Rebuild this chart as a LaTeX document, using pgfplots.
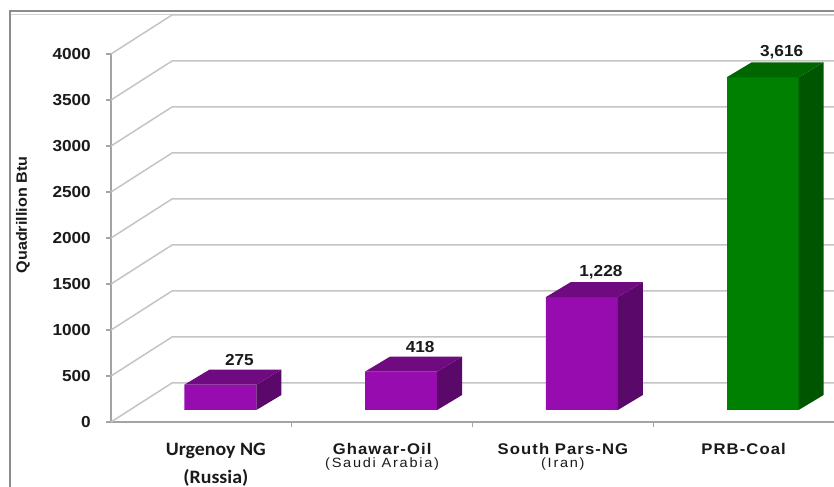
\documentclass[border=0pt]{standalone}
\usepackage{pgfplots}
\pgfplotsset{compat=1.18}
\usepackage{pgfplotstable}
\usepackage{fontspec}
\setmainfont{Liberation Sans}[FakeStretch=1.08]
\newfontfamily\catfont{Liberation Sans}[FakeStretch=1.08, LetterSpace=7]
\newfontfamily\subfont{Liberation Sans}[FakeStretch=1.08, LetterSpace=13]
\newfontfamily\calfont{Carlito}[FakeStretch=1.05]

\definecolor{purpF}{HTML}{960CAF}
\definecolor{purpT}{HTML}{700A80}
\definecolor{purpS}{HTML}{5A0869}
\definecolor{greenF}{HTML}{008000}
\definecolor{greenT}{HTML}{006600}
\definecolor{greenS}{HTML}{005500}
\definecolor{gridc}{HTML}{C4C4C4}
\definecolor{axisc}{HTML}{A4A4A4}
\definecolor{txt}{HTML}{1A1A1A}

\pgfplotstableread{
x v
0.5 275
1.5 418
2.5 1228
}\purpdata
\pgfplotstableread{
x v
3.5 3616
}\greendata

\pgfdeclareplotmark{nothing}{}
\newdimen\barh
\pgfplotsset{
  face3d/.style 2 args={
    scatter, only marks, mark=nothing,
    point meta=\thisrow{v},
    visualization depends on={\thisrow{v}\as\val},
    scatter/@pre marker code/.code={%
      \begingroup
      \pgfkeys{/pgf/fpu=true, /pgf/fpu/output format=fixed}%
      \pgfmathparse{0.092*\val}%
      \global\barh=\pgfmathresult bp\relax
      \endgroup
      \pgfpathmoveto{\pgfqpoint{55bp}{12bp}}%
      \pgfpathlineto{\pgfqpoint{80bp}{27bp}}%
      \pgfpathlineto{\pgfpointadd{\pgfqpoint{80bp}{27bp}}{\pgfqpoint{0pt}{-\barh}}}%
      \pgfpathlineto{\pgfpointadd{\pgfqpoint{55bp}{12bp}}{\pgfqpoint{0pt}{-\barh}}}%
      \pgfpathclose
      \pgfsetfillcolor{#2}%
      \pgfusepath{fill}%
      \pgfpathmoveto{\pgfqpoint{-17bp}{12bp}}%
      \pgfpathlineto{\pgfqpoint{55bp}{12bp}}%
      \pgfpathlineto{\pgfqpoint{80bp}{27bp}}%
      \pgfpathlineto{\pgfqpoint{8bp}{27bp}}%
      \pgfpathclose
      \pgfsetfillcolor{#1}%
      \pgfusepath{fill}%
    },
    scatter/@post marker code/.code={},
  },
  vlabels/.style={
    only marks, mark=nothing, point meta=\thisrow{v},
    nodes near coords={\pgfmathprintnumber[1000 sep={,}, assume math mode=true]{\pgfplotspointmeta}},
    every node near coord/.append style={anchor=center, xshift=38bp, yshift=37bp,
      font=\bfseries\fontsize{16}{16}\selectfont, text=txt},
  },
  front3d/.style={ybar, bar width=72bp, bar shift=19bp, yshift=12bp, fill=#1, draw=none},
}

\begin{document}
\begin{tikzpicture}
\clip (0,0) rectangle (834bp,487bp);
\draw[line width=2bp, draw=black!45] (10bp,0bp) -- (10bp,476bp) -- (834bp,476bp);
\draw[line width=1bp, draw=black!18] (11bp,472.5bp) -- (834bp,472.5bp);
\begin{axis}[
  at={(111bp,65bp)}, anchor=south west,
  scale only axis, width=723bp, height=368bp,
  xmin=0, xmax=4, ymin=0, ymax=4000,
  clip=false,
  axis lines=left,
  axis line style={-, draw=axisc, line width=1.3bp},
  ytick={0,500,...,4000},
  xtick={1,2,3}, xticklabels={},
  tick align=outside, major tick length=5bp,
  tick style={draw=axisc, line width=1.3bp},
  yticklabel style={font=\bfseries\fontsize{16}{16}\selectfont, text=txt, inner sep=0pt, xshift=-15bp,
    /pgf/number format/assume math mode=true, /pgf/number format/1000 sep={}},
  extra x ticks={0.58,1.5,2.5,3.5},
  extra x tick labels={
    {\calfont\bfseries\fontsize{19}{28}\selectfont Urgenoy NG\\[10pt]\calfont\bfseries\fontsize{19}{28}\selectfont (Russia)},
    {\catfont\bfseries\fontsize{15.5}{17}\selectfont Ghawar-Oil\\[1.5pt]\subfont\mdseries\fontsize{13.5}{17}\selectfont (Saudi Arabia)},
    {\catfont\bfseries\fontsize{15.5}{17}\selectfont South Pars-NG\\[1.5pt]\subfont\mdseries\fontsize{13.5}{17}\selectfont (Iran)},
    {\catfont\bfseries\fontsize{15.5}{17}\selectfont PRB-Coal}},
  extra x tick style={tick style={draw=none}, xticklabel style={align=center, anchor=north, inner sep=0pt, yshift=-16bp, text=txt}},
]
\pgfplotsinvokeforeach{0,500,...,4000}{
  \draw[draw=gridc, line width=1.5bp] (axis cs:0,#1) -- ++(61bp,39bp) -- ++(662bp,0pt);
}
\addplot[front3d=purpF] table[x=x, y=v]{\purpdata};
\addplot[face3d={purpT}{purpS}] table[x=x, y=v]{\purpdata};
\addplot[vlabels] table[x=x, y=v]{\purpdata};
\addplot[front3d=greenF] table[x=x, y=v]{\greendata};
\addplot[face3d={greenT}{greenS}] table[x=x, y=v]{\greendata};
\addplot[vlabels] table[x=x, y=v]{\greendata};
\end{axis}
\node[rotate=90, font=\bfseries\fontsize{15}{15}\selectfont, text=txt] at (23bp,272bp) {Quadrillion Btu};
\end{tikzpicture}
\end{document}
